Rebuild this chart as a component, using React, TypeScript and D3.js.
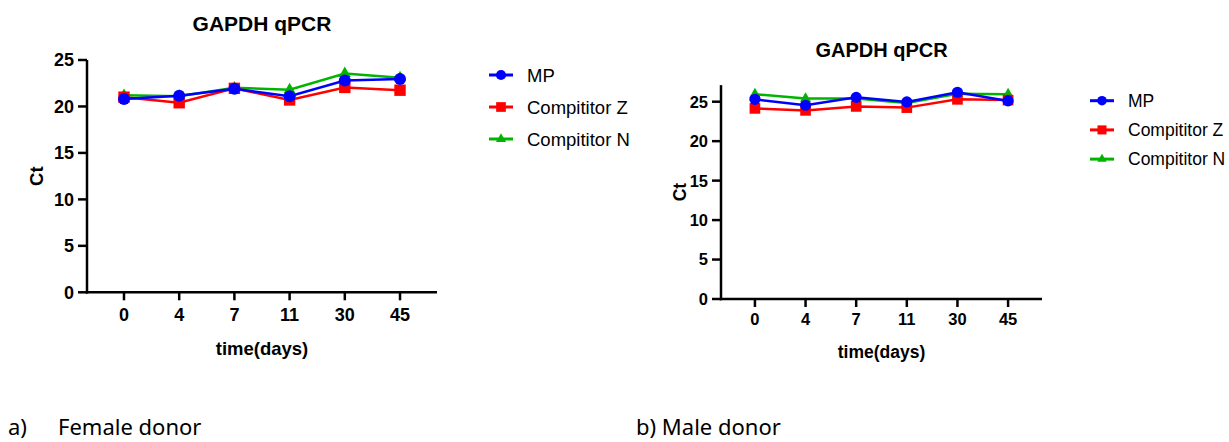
import React from "react";
import * as d3 from "d3";

const days = ["0", "4", "7", "11", "30", "45"];
const seriesNames = ["MP", "Compititor Z", "Compititor N"];
const seriesColors = ["#0000FF", "#FF0000", "#00B400"];
const seriesShapes = ["circle", "square", "triangle"];

const femaleMP = [20.8, 21.15, 21.9, 21.1, 22.8, 22.95];
const femaleZ = [21.0, 20.4, 21.95, 20.7, 22.05, 21.75];
const femaleN = [21.2, 21.1, 22.0, 21.8, 23.55, 23.1];

const maleMP = [25.3, 24.55, 25.55, 24.97, 26.2, 25.1];
const maleZ = [24.15, 23.9, 24.4, 24.25, 25.3, 25.2];
const maleN = [25.95, 25.4, 25.4, 24.85, 26.0, 25.95];

const yTicks = [0, 5, 10, 15, 20, 25];
const titleText = "GAPDH qPCR";
const xLabel = "time(days)";
const yLabel = "Ct";

type PanelCfg = {
  x0: number; x1: number; yTop: number; yBottom: number; yMax: number;
  titleY: number; tickFont: number; labelFont: number; titleFont: number;
  xLabelY: number; tickLabelY: number; yLabelX: number;
  legX: number; legY: number; legStep: number; legFont: number;
  r: number;
};

function Marker({ shape, cx, cy, color, r }: any) {
  if (shape === "circle") return <circle cx={cx} cy={cy} r={r} fill={color} />;
  if (shape === "square")
    return <rect x={cx - r * 0.95} y={cy - r * 0.95} width={r * 1.9} height={r * 1.9} fill={color} />;
  const path = d3.symbol().type(d3.symbolTriangle).size(r * r * 1.7)();
  return <path d={path || ""} transform={`translate(${cx},${cy})`} fill={color} />;
}

function Panel({ cfg, data }: { cfg: PanelCfg; data: number[][] }) {
  const x = d3.scalePoint<string>().domain(days).range([cfg.x0, cfg.x1]).padding(0.67);
  const y = d3.scaleLinear().domain([0, cfg.yMax]).range([cfg.yBottom, cfg.yTop]);
  const line = d3.line<number>().x((_, i) => x(days[i]) as number).y((v) => y(v));
  const order = [2, 1, 0];
  const font = "Arial, 'Liberation Sans', Helvetica, sans-serif";
  const cx = (cfg.x0 + cfg.x1) / 2;
  return (
    <g fontFamily={font}>
      <text x={cx} y={cfg.titleY} textAnchor="middle" fontWeight="bold" fontSize={cfg.titleFont}>{titleText}</text>
      <line x1={cfg.x0} x2={cfg.x0} y1={y(cfg.yMax)} y2={cfg.yBottom + 1.25} stroke="#000" strokeWidth={2.5} />
      <line x1={cfg.x0 - 1.25} x2={cfg.x1} y1={cfg.yBottom} y2={cfg.yBottom} stroke="#000" strokeWidth={2.5} />
      {yTicks.map((t) => (
        <g key={t}>
          <line x1={cfg.x0 - 9} x2={cfg.x0} y1={y(t)} y2={y(t)} stroke="#000" strokeWidth={2.5} />
          <text x={cfg.x0 - 13} y={y(t)} dy="0.36em" textAnchor="end" fontWeight="bold" fontSize={cfg.tickFont}>{t}</text>
        </g>
      ))}
      {days.map((d) => (
        <g key={d}>
          <line x1={x(d)} x2={x(d)} y1={cfg.yBottom} y2={cfg.yBottom + 8} stroke="#000" strokeWidth={2.5} />
          <text x={x(d)} y={cfg.tickLabelY} textAnchor="middle" fontWeight="bold" fontSize={cfg.tickFont}>{d}</text>
        </g>
      ))}
      <text x={cx} y={cfg.xLabelY} textAnchor="middle" fontWeight="bold" fontSize={cfg.labelFont}>{xLabel}</text>
      <text transform={`translate(${cfg.yLabelX},${(y(cfg.yMax) + cfg.yBottom) / 2}) rotate(-90)`} dy="0.36em" textAnchor="middle" fontWeight="bold" fontSize={cfg.labelFont}>{yLabel}</text>
      {order.map((si) => (
        <g key={si}>
          <path d={line(data[si]) || ""} fill="none" stroke={seriesColors[si]} strokeWidth={2.5} />
          {data[si].map((v, i) => (
            <Marker key={i} shape={seriesShapes[si]} cx={x(days[i])} cy={y(v)} color={seriesColors[si]} r={cfg.r} />
          ))}
        </g>
      ))}
      {seriesNames.map((n, i) => {
        const ly = cfg.legY + i * cfg.legStep;
        return (
          <g key={n}>
            <line x1={cfg.legX} x2={cfg.legX + 24} y1={ly} y2={ly} stroke={seriesColors[i]} strokeWidth={3} />
            <Marker shape={seriesShapes[i]} cx={cfg.legX + 12} cy={ly} color={seriesColors[i]} r={cfg.r * 0.85} />
            <text x={cfg.legX + 38} y={ly} dy="0.36em" fontSize={cfg.legFont}>{n}</text>
          </g>
        );
      })}
    </g>
  );
}

const leftCfg: PanelCfg = {
  x0: 87, x1: 437, yTop: 60, yBottom: 292.3, yMax: 25,
  titleY: 31, tickFont: 18, labelFont: 18.5, titleFont: 21,
  xLabelY: 355, tickLabelY: 320.5, yLabelX: 36,
  legX: 489, legY: 75, legStep: 32, legFont: 18.5, r: 6,
};
const rightCfg: PanelCfg = {
  x0: 721, x1: 1042, yTop: 299 - (299 - 101.7) * 27.1 / 25, yBottom: 299, yMax: 27.1,
  titleY: 57, tickFont: 16.5, labelFont: 17.5, titleFont: 20,
  xLabelY: 358, tickLabelY: 325, yLabelX: 680,
  legX: 1090, legY: 100.7, legStep: 29.2, legFont: 17.5, r: 5.6,
};

export default function App() {
  const capFont = "'Noto Sans', sans-serif";
  return (
    <svg width={1229} height={442} style={{ position: "absolute", left: 0, top: 0, background: "#fff" }}>
      <rect width={1229} height={442} fill="#fff" />
      <Panel cfg={leftCfg} data={[femaleMP, femaleZ, femaleN]} />
      <Panel cfg={rightCfg} data={[maleMP, maleZ, maleN]} />
      <text x={8} y={435} fontFamily={capFont} fontSize={22}>a)</text>
      <text x={58} y={435} fontFamily={capFont} fontSize={22}>Female donor</text>
      <text x={636} y={435} fontFamily={capFont} fontSize={22}>b) Male donor</text>
    </svg>
  );
}
